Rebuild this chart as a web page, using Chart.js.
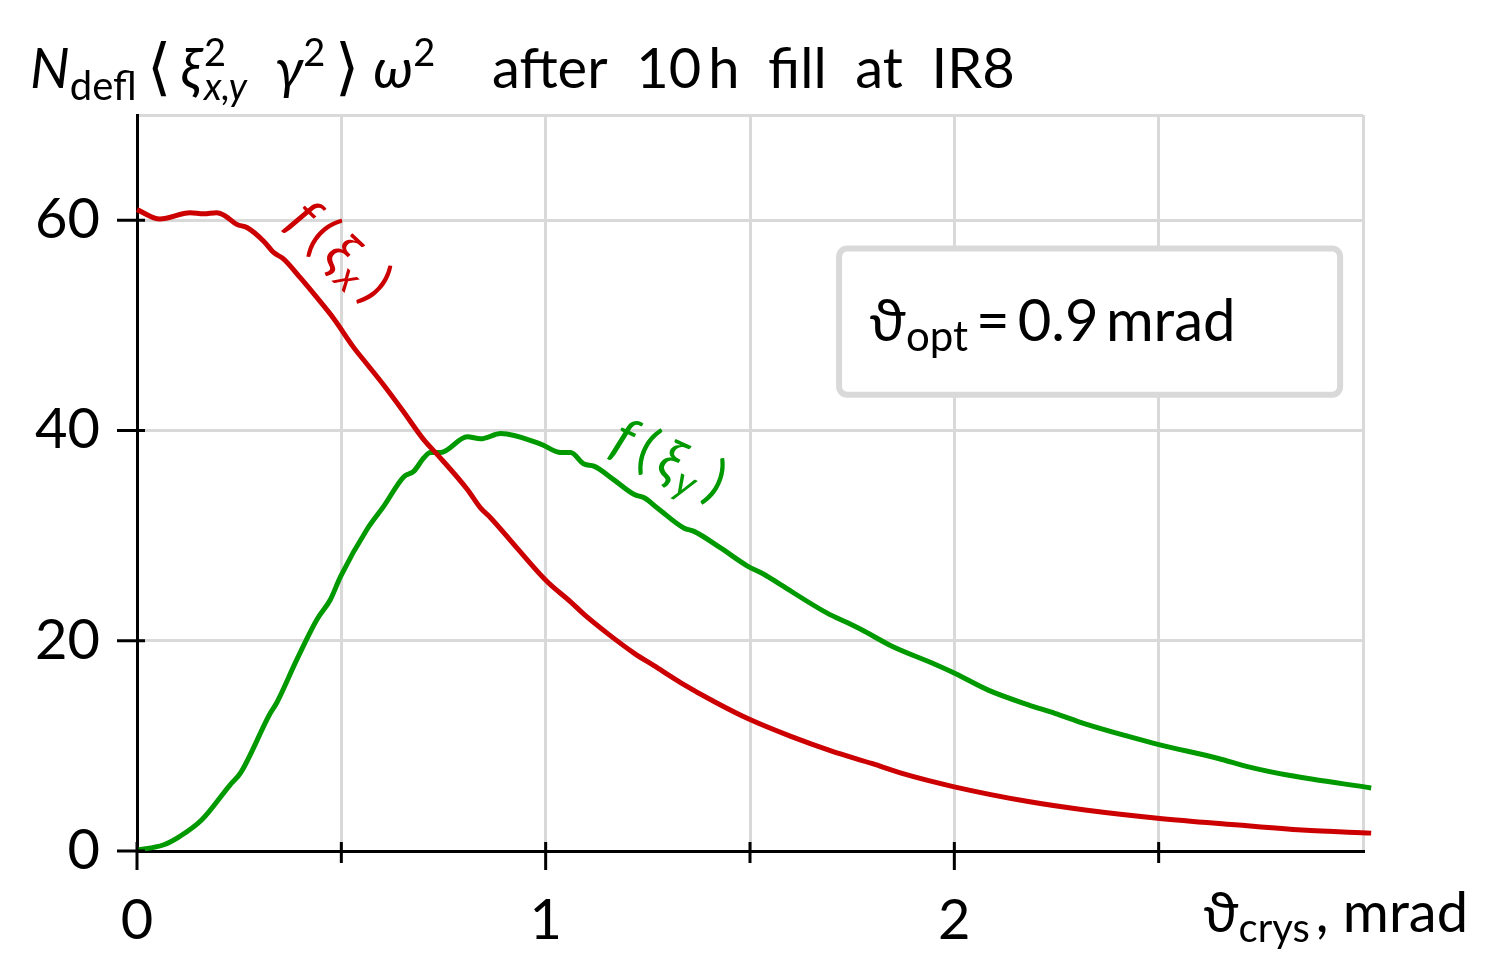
<!DOCTYPE html>
<html>
<head>
<meta charset="utf-8">
<script src="https://cdn.jsdelivr.net/npm/chart.js@4.4.1/dist/chart.umd.min.js"></script>
<style>
  html, body { margin: 0; padding: 0; background: #fff; }
</style>
</head>
<body>
<canvas id="chart" width="1486" height="980"></canvas>
<script>
const FONT = "Lato, 'Noto Sans', sans-serif";

// f(xi_x): deflected-particle weight vs crystal angle
const fxTheta = [0, 0.056, 0.13, 0.163, 0.195, 0.216, 0.244, 0.269, 0.31, 0.335, 0.359, 0.4, 0.441, 0.482, 0.53, 0.563, 0.604, 0.65, 0.702, 0.735, 0.808, 0.841, 0.865, 0.93, 1.004, 1.061, 1.094, 1.151, 1.217, 1.266, 1.331, 1.413, 1.5, 1.6, 1.7, 1.8, 1.87, 2.0, 2.181, 2.32, 2.503, 2.687, 2.851, 3.02];
const fxValues = [61.0, 60.1, 60.7, 60.6, 60.7, 60.4, 59.6, 59.3, 58.0, 56.9, 56.3, 54.5, 52.6, 50.6, 47.9, 46.3, 44.3, 41.9, 39.1, 37.7, 34.4, 32.6, 31.7, 28.8, 25.6, 23.7, 22.5, 20.7, 18.8, 17.6, 16.0, 14.2, 12.5, 10.9, 9.5, 8.3, 7.4, 6.1, 4.7, 3.9, 3.1, 2.5, 2.0, 1.7];

// f(xi_y)
const fyTheta = [0, 0.064, 0.105, 0.158, 0.228, 0.253, 0.326, 0.342, 0.391, 0.44, 0.473, 0.498, 0.563, 0.604, 0.653, 0.677, 0.702, 0.718, 0.743, 0.808, 0.841, 0.89, 0.988, 1.037, 1.061, 1.094, 1.118, 1.167, 1.217, 1.241, 1.274, 1.339, 1.363, 1.429, 1.494, 1.535, 1.576, 1.69, 1.739, 1.78, 1.846, 1.944, 2.001, 2.083, 2.181, 2.246, 2.32, 2.426, 2.503, 2.646, 2.72, 2.818, 3.02];
const fyValues = [0.1, 0.57, 1.4, 2.95, 6.3, 7.4, 13.1, 14.1, 18.2, 22.0, 23.9, 26.1, 30.6, 32.8, 35.6, 36.1, 37.4, 37.9, 37.9, 39.4, 39.2, 39.7, 38.7, 37.9, 37.9, 36.8, 36.6, 35.3, 33.9, 33.6, 32.6, 30.7, 30.4, 28.8, 27.1, 26.3, 25.3, 22.6, 21.7, 20.9, 19.5, 17.9, 16.9, 15.3, 13.9, 13.1, 12.1, 10.9, 10.1, 8.8, 8.0, 7.2, 6.0];

const xTicks = [0, 0.5, 1, 1.5, 2, 2.5, 3];
const xTickLabels = ['0', '', '1', '', '2', '', ''];
const yTicks = [0, 20, 40, 60, 70];
const yTickLabels = ['0', '20', '40', '60', ''];

const RED = '#cc0000';
const GREEN = '#009900';
const GRID = '#d9d9d9';

function pts(xs, ys) {
  return xs.map((x, i) => ({ x: x, y: ys[i] }));
}

// draws a run of text pieces (sub/superscripts, mixed italics) left to right
function drawRich(ctx, x, y, parts) {
  parts.forEach(p => {
    ctx.font = (p.italic ? 'italic ' : '') + p.size + 'px ' + FONT;
    x += p.gap || 0;
    ctx.fillText(p.t, x, y + (p.dy || 0));
    if (!p.keep) x += ctx.measureText(p.t).width;
  });
  return x;
}

// ticks that cross the axis lines, major and minor
const crossTicks = {
  id: 'crossTicks',
  afterDatasetsDraw(chart) {
    const { ctx, chartArea: a, scales: { x, y } } = chart;
    ctx.save();
    ctx.strokeStyle = '#000';
    ctx.lineWidth = 3;
    ctx.beginPath();
    xTicks.forEach((v, i) => {
      const px = x.getPixelForValue(v);
      if (v >= 3) return;
      const out = xTickLabels[i] ? 19 : 12;
      ctx.moveTo(px, a.bottom - 9);
      ctx.lineTo(px, a.bottom + out);
    });
    yTicks.forEach((v, i) => {
      if (!yTickLabels[i]) return;
      const py = y.getPixelForValue(v);
      ctx.moveTo(a.left - 20, py);
      ctx.lineTo(a.left + 8, py);
    });
    ctx.stroke();
    ctx.restore();
  }
};

// title, axis caption, curve labels and the optimum-angle box
const annotations = {
  id: 'annotations',
  afterDraw(chart) {
    const { ctx, scales: { x, y } } = chart;
    ctx.save();
    ctx.fillStyle = '#000';
    ctx.textBaseline = 'alphabetic';

    drawRich(ctx, 30, 88, [
      { t: 'N', italic: true, size: 56 },
      { t: 'defl', size: 40, dy: 12 },
      { t: '\u27E8', size: 62, gap: 10 },
      { t: '\u03BE', italic: true, size: 56, gap: 10 },
      { t: '2', size: 38, dy: -22, keep: true, gap: 3 },
      { t: 'x,y', italic: true, size: 38, dy: 12 },
      { t: '\u03B3', italic: true, size: 56, gap: 28 },
      { t: '2', size: 38, dy: -22 },
      { t: '\u27E9', size: 62, gap: 10 },
      { t: '\u03C9', italic: true, size: 56, gap: 14 },
      { t: '2', size: 38, dy: -22 }
    ]);
    drawRich(ctx, 492, 88, [{ t: 'after  10\u2009h  fill  at  IR8', size: 56 }]);

    // x axis caption
    drawRich(ctx, 1203, 932, [
      { t: '\u03D1', size: 56 },
      { t: 'crys', size: 40, dy: 10 },
      { t: ', mrad', size: 56, gap: 6 }
    ]);

    // box with the optimum angle
    const bx0 = x.getPixelForValue(1.718), bx1 = x.getPixelForValue(2.944);
    const by0 = y.getPixelForValue(57.3), by1 = y.getPixelForValue(43.4);
    ctx.fillStyle = '#fff';
    ctx.strokeStyle = GRID;
    ctx.lineWidth = 6;
    ctx.beginPath();
    ctx.roundRect(bx0, by0, bx1 - bx0, by1 - by0, 8);
    ctx.fill();
    ctx.stroke();
    ctx.fillStyle = '#000';
    drawRich(ctx, bx0 + 30, y.getPixelForValue(48.5), [
      { t: '\u03D1', size: 58 },
      { t: 'opt', size: 42, dy: 10 },
      { t: '=', size: 58, gap: 8 },
      { t: '0.9\u2009mrad', size: 58, gap: 8 }
    ]);

    // curve labels, rotated along the lines
    ctx.save();
    ctx.fillStyle = RED;
    ctx.translate(x.getPixelForValue(0.36), y.getPixelForValue(59.6));
    ctx.rotate(43 * Math.PI / 180);
    drawRich(ctx, 0, 0, [
      { t: 'f', italic: true, size: 56 },
      { t: '(', size: 56, gap: 10 },
      { t: '\u03BE', italic: true, size: 56, gap: 8 },
      { t: 'x', italic: true, size: 40, dy: 9, gap: 3 },
      { t: ')', size: 56, gap: 10 }
    ]);
    ctx.restore();

    ctx.save();
    ctx.fillStyle = GREEN;
    ctx.translate(x.getPixelForValue(1.152), y.getPixelForValue(38.0));
    ctx.rotate(25 * Math.PI / 180);
    drawRich(ctx, 0, 0, [
      { t: 'f', italic: true, size: 56 },
      { t: '(', size: 56, gap: 10 },
      { t: '\u03BE', italic: true, size: 56, gap: 8 },
      { t: 'y', italic: true, size: 40, dy: 9, gap: 3 },
      { t: ')', size: 56, gap: 10 }
    ]);
    ctx.restore();

    ctx.restore();
  }
};

const ctx = document.getElementById('chart').getContext('2d');
const chart = new Chart(ctx, {
  type: 'line',
  data: {
    datasets: [
      {
        label: 'f(\u03BEx)',
        data: pts(fxTheta, fxValues),
        borderColor: RED,
        borderWidth: 5,
        pointRadius: 0,
        cubicInterpolationMode: 'monotone',
        clip: { left: 2, top: 2, right: 9, bottom: 4 }
      },
      {
        label: 'f(\u03BEy)',
        data: pts(fyTheta, fyValues),
        borderColor: GREEN,
        borderWidth: 5,
        pointRadius: 0,
        cubicInterpolationMode: 'monotone',
        clip: { left: 2, top: 2, right: 9, bottom: 4 }
      }
    ]
  },
  options: {
    responsive: false,
    devicePixelRatio: 1,
    animation: false,
    layout: { padding: { top: 115, right: 123, left: 0, bottom: 0 } },
    plugins: {
      legend: { display: false },
      tooltip: { enabled: false }
    },
    scales: {
      x: {
        type: 'linear',
        min: 0,
        max: 3,
        afterBuildTicks: (s) => { s.ticks = xTicks.map(v => ({ value: v })); },
        afterFit: (s) => { s.height = 129; },
        ticks: {
          autoSkip: false,
          maxRotation: 0,
          padding: 36,
          color: '#000',
          font: { family: FONT, size: 56 },
          callback: (v) => xTickLabels[xTicks.indexOf(v)] || ''
        },
        grid: { color: GRID, lineWidth: 3, drawTicks: false },
        border: { color: '#000', width: 3 }
      },
      y: {
        min: 0,
        max: 70,
        afterBuildTicks: (s) => { s.ticks = yTicks.map(v => ({ value: v })); },
        afterFit: (s) => { s.width = 137; },
        ticks: {
          autoSkip: false,
          padding: 37,
          color: '#000',
          font: { family: FONT, size: 56 },
          callback: (v) => yTickLabels[yTicks.indexOf(v)] || ''
        },
        grid: { color: GRID, lineWidth: 3, drawTicks: false },
        border: { color: '#000', width: 3 }
      }
    }
  },
  plugins: [crossTicks, annotations]
});
</script>
</body>
</html>
